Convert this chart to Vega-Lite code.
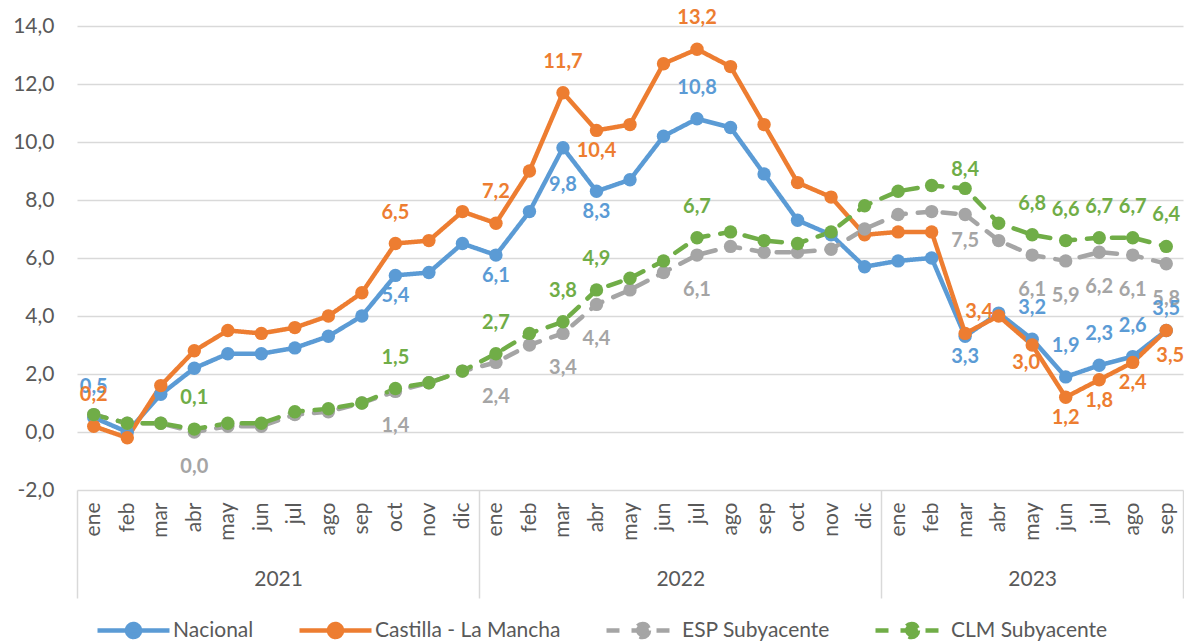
{
  "$schema": "https://vega.github.io/schema/vega-lite/v6.json",
  "width": 1106,
  "height": 464,
  "autosize": "none",
  "padding": {"left": 77, "top": 26, "right": 1, "bottom": 152},
  "background": "white",
  "config": {
    "view": {"stroke": null},
    "locale": {"number": {"decimal": ",", "thousands": ".", "grouping": [3], "currency": ["", " €"], "minus": "-"}},
    "axis": {"labelFont": "Lato", "labelColor": "#595959"},
    "legend": {"labelFont": "Lato"}
  },
  "data": {"values": [
    {"s":"Nacional","t":0,"v":0.5,"lab":1},{"s":"Nacional","t":1,"v":0.0,"lab":0},{"s":"Nacional","t":2,"v":1.3,"lab":0},{"s":"Nacional","t":3,"v":2.2,"lab":0},{"s":"Nacional","t":4,"v":2.7,"lab":0},{"s":"Nacional","t":5,"v":2.7,"lab":0},{"s":"Nacional","t":6,"v":2.9,"lab":0},{"s":"Nacional","t":7,"v":3.3,"lab":0},{"s":"Nacional","t":8,"v":4.0,"lab":0},{"s":"Nacional","t":9,"v":5.4,"lab":1},{"s":"Nacional","t":10,"v":5.5,"lab":0},{"s":"Nacional","t":11,"v":6.5,"lab":0},
    {"s":"Nacional","t":12,"v":6.1,"lab":1},{"s":"Nacional","t":13,"v":7.6,"lab":0},{"s":"Nacional","t":14,"v":9.8,"lab":1},{"s":"Nacional","t":15,"v":8.3,"lab":1},{"s":"Nacional","t":16,"v":8.7,"lab":0},{"s":"Nacional","t":17,"v":10.2,"lab":0},{"s":"Nacional","t":18,"v":10.8,"lab":1},{"s":"Nacional","t":19,"v":10.5,"lab":0},{"s":"Nacional","t":20,"v":8.9,"lab":0},{"s":"Nacional","t":21,"v":7.3,"lab":0},{"s":"Nacional","t":22,"v":6.8,"lab":0},{"s":"Nacional","t":23,"v":5.7,"lab":0},
    {"s":"Nacional","t":24,"v":5.9,"lab":0},{"s":"Nacional","t":25,"v":6.0,"lab":0},{"s":"Nacional","t":26,"v":3.3,"lab":1},{"s":"Nacional","t":27,"v":4.1,"lab":0},{"s":"Nacional","t":28,"v":3.2,"lab":1},{"s":"Nacional","t":29,"v":1.9,"lab":1},{"s":"Nacional","t":30,"v":2.3,"lab":1},{"s":"Nacional","t":31,"v":2.6,"lab":1},{"s":"Nacional","t":32,"v":3.5,"lab":1},

    {"s":"Castilla - La Mancha","t":0,"v":0.2,"lab":1},{"s":"Castilla - La Mancha","t":1,"v":-0.2,"lab":0},{"s":"Castilla - La Mancha","t":2,"v":1.6,"lab":0},{"s":"Castilla - La Mancha","t":3,"v":2.8,"lab":0},{"s":"Castilla - La Mancha","t":4,"v":3.5,"lab":0},{"s":"Castilla - La Mancha","t":5,"v":3.4,"lab":0},{"s":"Castilla - La Mancha","t":6,"v":3.6,"lab":0},{"s":"Castilla - La Mancha","t":7,"v":4.0,"lab":0},{"s":"Castilla - La Mancha","t":8,"v":4.8,"lab":0},{"s":"Castilla - La Mancha","t":9,"v":6.5,"lab":1},{"s":"Castilla - La Mancha","t":10,"v":6.6,"lab":0},{"s":"Castilla - La Mancha","t":11,"v":7.6,"lab":0},
    {"s":"Castilla - La Mancha","t":12,"v":7.2,"lab":1},{"s":"Castilla - La Mancha","t":13,"v":9.0,"lab":0},{"s":"Castilla - La Mancha","t":14,"v":11.7,"lab":1},{"s":"Castilla - La Mancha","t":15,"v":10.4,"lab":1},{"s":"Castilla - La Mancha","t":16,"v":10.6,"lab":0},{"s":"Castilla - La Mancha","t":17,"v":12.7,"lab":0},{"s":"Castilla - La Mancha","t":18,"v":13.2,"lab":1},{"s":"Castilla - La Mancha","t":19,"v":12.6,"lab":0},{"s":"Castilla - La Mancha","t":20,"v":10.6,"lab":0},{"s":"Castilla - La Mancha","t":21,"v":8.6,"lab":0},{"s":"Castilla - La Mancha","t":22,"v":8.1,"lab":0},{"s":"Castilla - La Mancha","t":23,"v":6.8,"lab":0},
    {"s":"Castilla - La Mancha","t":24,"v":6.9,"lab":0},{"s":"Castilla - La Mancha","t":25,"v":6.9,"lab":0},{"s":"Castilla - La Mancha","t":26,"v":3.4,"lab":1},{"s":"Castilla - La Mancha","t":27,"v":4.0,"lab":0},{"s":"Castilla - La Mancha","t":28,"v":3.0,"lab":1},{"s":"Castilla - La Mancha","t":29,"v":1.2,"lab":1},{"s":"Castilla - La Mancha","t":30,"v":1.8,"lab":1},{"s":"Castilla - La Mancha","t":31,"v":2.4,"lab":1},{"s":"Castilla - La Mancha","t":32,"v":3.5,"lab":1},

    {"s":"ESP Subyacente","t":0,"v":0.6,"lab":0},{"s":"ESP Subyacente","t":1,"v":0.3,"lab":0},{"s":"ESP Subyacente","t":2,"v":0.3,"lab":0},{"s":"ESP Subyacente","t":3,"v":0.0,"lab":1},{"s":"ESP Subyacente","t":4,"v":0.2,"lab":0},{"s":"ESP Subyacente","t":5,"v":0.2,"lab":0},{"s":"ESP Subyacente","t":6,"v":0.6,"lab":0},{"s":"ESP Subyacente","t":7,"v":0.7,"lab":0},{"s":"ESP Subyacente","t":8,"v":1.0,"lab":0},{"s":"ESP Subyacente","t":9,"v":1.4,"lab":1},{"s":"ESP Subyacente","t":10,"v":1.7,"lab":0},{"s":"ESP Subyacente","t":11,"v":2.1,"lab":0},
    {"s":"ESP Subyacente","t":12,"v":2.4,"lab":1},{"s":"ESP Subyacente","t":13,"v":3.0,"lab":0},{"s":"ESP Subyacente","t":14,"v":3.4,"lab":1},{"s":"ESP Subyacente","t":15,"v":4.4,"lab":1},{"s":"ESP Subyacente","t":16,"v":4.9,"lab":0},{"s":"ESP Subyacente","t":17,"v":5.5,"lab":0},{"s":"ESP Subyacente","t":18,"v":6.1,"lab":1},{"s":"ESP Subyacente","t":19,"v":6.4,"lab":0},{"s":"ESP Subyacente","t":20,"v":6.2,"lab":0},{"s":"ESP Subyacente","t":21,"v":6.2,"lab":0},{"s":"ESP Subyacente","t":22,"v":6.3,"lab":0},{"s":"ESP Subyacente","t":23,"v":7.0,"lab":0},
    {"s":"ESP Subyacente","t":24,"v":7.5,"lab":0},{"s":"ESP Subyacente","t":25,"v":7.6,"lab":0},{"s":"ESP Subyacente","t":26,"v":7.5,"lab":1},{"s":"ESP Subyacente","t":27,"v":6.6,"lab":0},{"s":"ESP Subyacente","t":28,"v":6.1,"lab":1},{"s":"ESP Subyacente","t":29,"v":5.9,"lab":1},{"s":"ESP Subyacente","t":30,"v":6.2,"lab":1},{"s":"ESP Subyacente","t":31,"v":6.1,"lab":1},{"s":"ESP Subyacente","t":32,"v":5.8,"lab":1},

    {"s":"CLM Subyacente","t":0,"v":0.6,"lab":0},{"s":"CLM Subyacente","t":1,"v":0.3,"lab":0},{"s":"CLM Subyacente","t":2,"v":0.3,"lab":0},{"s":"CLM Subyacente","t":3,"v":0.1,"lab":1},{"s":"CLM Subyacente","t":4,"v":0.3,"lab":0},{"s":"CLM Subyacente","t":5,"v":0.3,"lab":0},{"s":"CLM Subyacente","t":6,"v":0.7,"lab":0},{"s":"CLM Subyacente","t":7,"v":0.8,"lab":0},{"s":"CLM Subyacente","t":8,"v":1.0,"lab":0},{"s":"CLM Subyacente","t":9,"v":1.5,"lab":1},{"s":"CLM Subyacente","t":10,"v":1.7,"lab":0},{"s":"CLM Subyacente","t":11,"v":2.1,"lab":0},
    {"s":"CLM Subyacente","t":12,"v":2.7,"lab":1},{"s":"CLM Subyacente","t":13,"v":3.4,"lab":0},{"s":"CLM Subyacente","t":14,"v":3.8,"lab":1},{"s":"CLM Subyacente","t":15,"v":4.9,"lab":1},{"s":"CLM Subyacente","t":16,"v":5.3,"lab":0},{"s":"CLM Subyacente","t":17,"v":5.9,"lab":0},{"s":"CLM Subyacente","t":18,"v":6.7,"lab":1},{"s":"CLM Subyacente","t":19,"v":6.9,"lab":0},{"s":"CLM Subyacente","t":20,"v":6.6,"lab":0},{"s":"CLM Subyacente","t":21,"v":6.5,"lab":0},{"s":"CLM Subyacente","t":22,"v":6.9,"lab":0},{"s":"CLM Subyacente","t":23,"v":7.8,"lab":0},
    {"s":"CLM Subyacente","t":24,"v":8.3,"lab":0},{"s":"CLM Subyacente","t":25,"v":8.5,"lab":0},{"s":"CLM Subyacente","t":26,"v":8.4,"lab":1},{"s":"CLM Subyacente","t":27,"v":7.2,"lab":0},{"s":"CLM Subyacente","t":28,"v":6.8,"lab":1},{"s":"CLM Subyacente","t":29,"v":6.6,"lab":1},{"s":"CLM Subyacente","t":30,"v":6.7,"lab":1},{"s":"CLM Subyacente","t":31,"v":6.7,"lab":1},{"s":"CLM Subyacente","t":32,"v":6.4,"lab":1}
  ]},
  "resolve": {"axis": {"x": "independent"}},
  "encoding": {
    "x": {"field": "t", "type": "quantitative", "scale": {"domain": [-0.5, 32.5], "nice": false, "zero": false}, "axis": null},
    "y": {"field": "v", "type": "quantitative", "scale": {"domain": [-2, 14], "nice": false, "zero": false},
      "axis": {"orient": "left", "values": [-2,0,2,4,6,8,10,12,14], "format": ".1f", "labelFontSize": 21, "labelPadding": 23, "ticks": false, "domain": false,
        "grid": true, "gridColor": "#D9D9D9", "gridWidth": 1.5, "title": null}},
    "color": {"field": "s", "type": "nominal", "scale": {"domain": ["Nacional", "Castilla - La Mancha", "ESP Subyacente", "CLM Subyacente"], "range": ["#5B9BD5", "#ED7D31", "#A5A5A5", "#70AD47"]}, "legend": null}
  },
  "layer": [
    {
      "mark": {"type": "line", "strokeWidth": 4.5, "strokeCap": "round", "strokeJoin": "round"},
      "encoding": {
        "x": {"field": "t", "type": "quantitative", "scale": {"domain": [-0.5, 32.5], "nice": false, "zero": false},
          "axis": {"orient": "bottom", "values": [0,1,2,3,4,5,6,7,8,9,10,11,12,13,14,15,16,17,18,19,20,21,22,23,24,25,26,27,28,29,30,31,32],
            "labelExpr": "['ene','feb','mar','abr','may','jun','jul','ago','sep','oct','nov','dic'][datum.value % 12]",
            "labelAngle": -90, "labelAlign": "right", "labelBaseline": "middle", "labelPadding": 12, "labelFontSize": 21,
            "ticks": false, "domain": false, "grid": false, "title": null, "labelOverlap": false, "labelFlush": false}},
        "color": {"field": "s", "type": "nominal", "scale": {"domain": ["Nacional", "Castilla - La Mancha", "ESP Subyacente", "CLM Subyacente"], "range": ["#5B9BD5", "#ED7D31", "#A5A5A5", "#70AD47"]},
          "legend": {"orient": "none", "legendX": 18, "legendY": 566, "direction": "horizontal", "title": null,
            "symbolType": "M-1,0H1M0.18,0A0.18,0.18,0,1,1,-0.18,0A0.18,0.18,0,1,1,0.18,0Z",
            "symbolSize": 5184, "symbolStrokeWidth": 4.5, "labelFontSize": 21, "labelColor": "#595959", "labelOffset": 1, "labelLimit": 400, "columnPadding": 36,
            "encode": {"symbols": {"update": {"fill": {"scale": "color", "field": "value"}}}}}},
        "strokeDash": {"field": "s", "type": "nominal", "scale": {"domain": ["Nacional", "Castilla - La Mancha", "ESP Subyacente", "CLM Subyacente"], "range": [[1,0],[1,0],[13,12],[13,12]]}}
      }
    },
    {
      "mark": {"type": "point", "filled": true, "size": 180, "opacity": 1, "strokeWidth": 0},
      "encoding": {
        "x": {"field": "t", "type": "quantitative", "scale": {"domain": [-0.5, 32.5], "nice": false, "zero": false},
          "axis": {"orient": "bottom", "values": [5.5, 17.5, 28], "labelExpr": "datum.value < 12 ? '2021' : datum.value < 24 ? '2022' : '2023'",
            "labelAngle": 0, "labelPadding": 78, "labelFontSize": 21, "ticks": false, "domain": false, "grid": false, "title": null, "labelFlush": false}}
      }
    },
    {
      "transform": [{"filter": "datum.lab == 1 && ((datum.s == 'CLM Subyacente' && datum.t != 26) || (datum.s == 'Castilla - La Mancha' && indexof([0,9,12,14,18], datum.t) >= 0) || (datum.s == 'Nacional' && indexof([0,18,28,29,30,31], datum.t) >= 0))"}],
      "mark": {"type": "text", "font": "Lato", "fontWeight": "bold", "fontSize": 20, "baseline": "middle", "align": "center", "dy": -31},
      "encoding": {
        "x": {"field": "t", "type": "quantitative", "scale": {"domain": [-0.5, 32.5], "nice": false, "zero": false},
          "axis": {"orient": "bottom", "values": [-0.5, 11.5, 23.5, 32.5], "labels": false, "ticks": true, "tickSize": 108, "tickColor": "#D9D9D9", "tickWidth": 1.5,
            "domain": false, "grid": false, "title": null}},
        "text": {"field": "v", "type": "quantitative", "format": ".1f"}
      }
    },
    {
      "transform": [{"filter": "(datum.s == 'Nacional' && indexof([9,12,15,26], datum.t) >= 0) || (datum.s == 'Castilla - La Mancha' && indexof([15,29,30,31], datum.t) >= 0)"}],
      "mark": {"type": "text", "font": "Lato", "fontWeight": "bold", "fontSize": 20, "baseline": "middle", "align": "center", "dy": 21},
      "encoding": {"text": {"field": "v", "type": "quantitative", "format": ".1f"}}
    },
    {
      "transform": [{"filter": "datum.lab == 1 && datum.s == 'ESP Subyacente' && datum.t != 26"}],
      "mark": {"type": "text", "font": "Lato", "fontWeight": "bold", "fontSize": 20, "baseline": "middle", "align": "center", "dy": 35},
      "encoding": {"text": {"field": "v", "type": "quantitative", "format": ".1f"}}
    },
    {
      "transform": [{"filter": "datum.s == 'Nacional' && datum.t == 14"}],
      "mark": {"type": "text", "font": "Lato", "fontWeight": "bold", "fontSize": 20, "baseline": "middle", "align": "center", "dy": 37},
      "encoding": {"text": {"field": "v", "type": "quantitative", "format": ".1f"}}
    },
    {
      "transform": [{"filter": "datum.s == 'Nacional' && datum.t == 32"}],
      "mark": {"type": "text", "font": "Lato", "fontWeight": "bold", "fontSize": 20, "baseline": "middle", "align": "center", "dy": -22},
      "encoding": {"text": {"field": "v", "type": "quantitative", "format": ".1f"}}
    },
    {
      "transform": [{"filter": "datum.s == 'Castilla - La Mancha' && datum.t == 26"}],
      "mark": {"type": "text", "font": "Lato", "fontWeight": "bold", "fontSize": 20, "baseline": "middle", "align": "center", "dx": 14, "dy": -21},
      "encoding": {"text": {"field": "v", "type": "quantitative", "format": ".1f"}}
    },
    {
      "transform": [{"filter": "datum.s == 'Castilla - La Mancha' && datum.t == 28"}],
      "mark": {"type": "text", "font": "Lato", "fontWeight": "bold", "fontSize": 20, "baseline": "middle", "align": "center", "dx": -6, "dy": 18},
      "encoding": {"text": {"field": "v", "type": "quantitative", "format": ".1f"}}
    },
    {
      "transform": [{"filter": "datum.s == 'Castilla - La Mancha' && datum.t == 32"}],
      "mark": {"type": "text", "font": "Lato", "fontWeight": "bold", "fontSize": 20, "baseline": "middle", "align": "center", "dx": 4, "dy": 25},
      "encoding": {"text": {"field": "v", "type": "quantitative", "format": ".1f"}}
    },
    {
      "transform": [{"filter": "datum.s == 'CLM Subyacente' && datum.t == 26"}],
      "mark": {"type": "text", "font": "Lato", "fontWeight": "bold", "fontSize": 20, "baseline": "middle", "align": "center", "dy": -18},
      "encoding": {"text": {"field": "v", "type": "quantitative", "format": ".1f"}}
    },
    {
      "transform": [{"filter": "datum.s == 'ESP Subyacente' && datum.t == 26"}],
      "mark": {"type": "text", "font": "Lato", "fontWeight": "bold", "fontSize": 20, "baseline": "middle", "align": "center", "dy": 26},
      "encoding": {"text": {"field": "v", "type": "quantitative", "format": ".1f"}}
    }
  ]
}
